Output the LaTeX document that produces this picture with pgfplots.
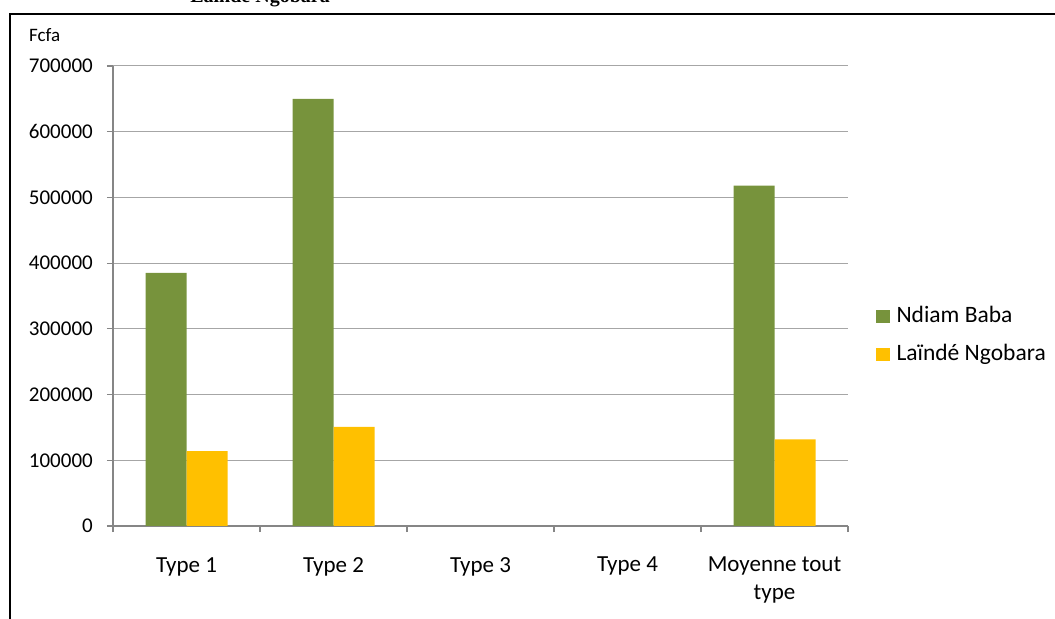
\documentclass[border=0pt]{standalone}
\usepackage{fontspec}
\setmainfont{Carlito}
\newfontfamily\serifbold{Liberation Serif}
\usepackage{pgfplots}
\pgfplotsset{compat=1.18}
\definecolor{ngreen}{HTML}{77933C}
\definecolor{nyellow}{HTML}{FFC000}
\definecolor{axgray}{HTML}{868686}
\definecolor{gridgray}{HTML}{A6A6A6}
\begin{document}
\begin{tikzpicture}[font=\fontsize{22bp}{27bp}\selectfont]
\useasboundingbox (0,0) rectangle (1055bp,619bp);
% frame of the chart area
\draw[black, line width=2.5bp] (10bp,-5bp) -- (10bp,605bp) -- (1060bp,605bp);
% title, cut by the top of the picture as in the reference
\node[anchor=base east, inner sep=0pt, font=\fontsize{20bp}{24bp}\serifbold\bfseries] at (330bp,616.5bp) {Laïndé Ngobara};
% unit label
\node[anchor=west, inner sep=0pt, font=\fontsize{19bp}{23bp}\selectfont] at (29bp,584bp) {Fcfa};
\begin{axis}[
  at={(113bp,93bp)}, anchor=south west,
  scale only axis, width=735bp, height=460bp,
  xmin=-0.5, xmax=4.5, ymin=0, ymax=700000,
  ybar=0pt, bar width=41bp,
  axis x line*=bottom, axis y line*=left,
  axis line style={axgray, line width=1.5bp},
  xtick={0,1,2,3,4},
  xticklabels={Type 1, Type 2, Type 3, Type 4, {Moyenne tout\\type}},
  major x tick style={draw=none},
  minor xtick={-0.5,0.5,1.5,2.5,3.5,4.5},
  minor x tick style={axgray, line width=1.2bp},
  minor tick length=6bp,
  major tick length=6bp,
  tick align=outside,
  ytick={0,100000,...,700000},
  scaled y ticks=false,
  major y tick style={axgray, line width=1.2bp},
  ymajorgrids, grid style={gridgray, line width=1bp},
  xticklabel style={align=center, anchor=north, inner sep=0pt, yshift=-25bp,
    font=\fontsize{23bp}{28bp}\selectfont},
  yticklabel style={anchor=east, inner sep=0pt, xshift=-14bp,
    font=\fontsize{21bp}{25bp}\selectfont},
  /pgf/number format/fixed, /pgf/number format/1000 sep={},
  /pgf/number format/assume math mode=true,
  legend style={at={(1,0.4134)}, anchor=west, xshift=28bp, draw=none, fill=none,
    inner sep=0pt, row sep=16bp, column sep=7bp,
    font=\fontsize{23.5bp}{28bp}\selectfont,
    nodes={inner sep=0pt, anchor=base west, text height=17bp, text depth=5bp}},
  legend cell align=left,
]
\addplot[fill=ngreen, draw=none,
  legend image code/.code={\fill[ngreen] (0bp,0bp) rectangle (13.3bp,13.3bp);}]
  coordinates {(0,385000) (1,650000) (4,518000)};
\addlegendentry{Ndiam Baba}
\addplot[fill=nyellow, draw=none,
  legend image code/.code={\fill[nyellow] (0bp,0bp) rectangle (13.3bp,13.3bp);}]
  coordinates {(0,114000) (1,151000) (4,132000)};
\addlegendentry{Laïndé Ngobara}
\end{axis}
\end{tikzpicture}
\end{document}
